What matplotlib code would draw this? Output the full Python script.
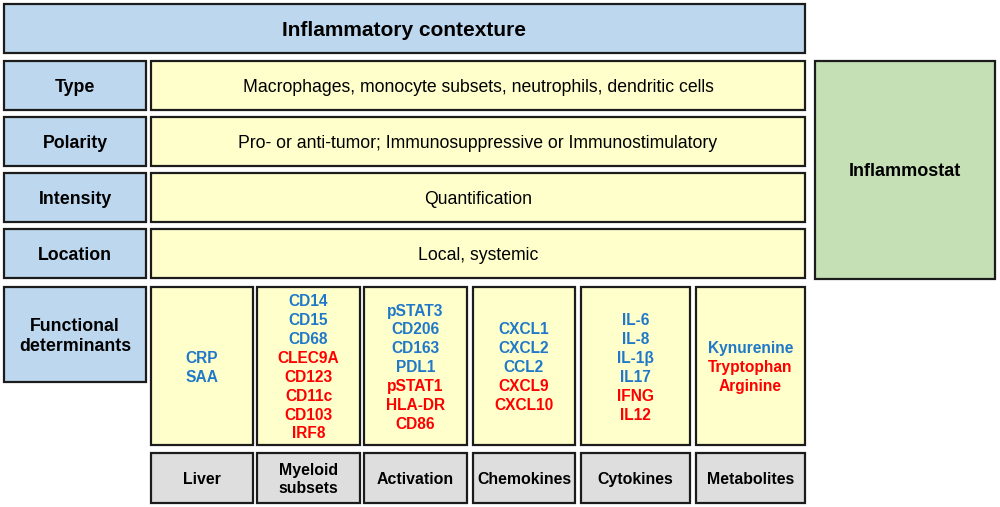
import matplotlib
matplotlib.use("Agg")
import matplotlib.pyplot as plt
from matplotlib.patches import Rectangle

plt.rcParams['font.family'] = ['Liberation Sans', 'DejaVu Sans']

# ---- data ----
title = "Inflammatory contexture"
row_labels = ["Type", "Polarity", "Intensity", "Location"]
row_texts = ["Macrophages, monocyte subsets, neutrophils, dendritic cells",
             "Pro- or anti-tumor; Immunosuppressive or Immunostimulatory",
             "Quantification",
             "Local, systemic"]
side_label = "Inflammostat"
func_label = "Functional\ndeterminants"
categories = ["Liver", "Myeloid\nsubsets", "Activation", "Chemokines", "Cytokines", "Metabolites"]
blue_markers = [["CRP", "SAA"],
                ["CD14", "CD15", "CD68"],
                ["pSTAT3", "CD206", "CD163", "PDL1"],
                ["CXCL1", "CXCL2", "CCL2"],
                ["IL-6", "IL-8", "IL-1β", "IL17"],
                ["Kynurenine"]]
red_markers = [[],
               ["CLEC9A", "CD123", "CD11c", "CD103", "IRF8"],
               ["pSTAT1", "HLA-DR", "CD86"],
               ["CXCL9", "CXCL10"],
               ["IFNG", "IL12"],
               ["Tryptophan", "Arginine"]]

# ---- layout / styles ----
col_edges = [(151, 253), (257, 360), (364, 467), (473, 575), (581, 690), (696, 805)]
BLUE_FILL = "#BDD7EE"
YELLOW_FILL = "#FFFFCC"
GREEN_FILL = "#C5E0B4"
GRAY_FILL = "#DEDEDE"
EDGE = "#1c1c1c"
BLUE_TXT = "#1F78C8"
RED_TXT = "#FF0000"
LW = 1.6
DY = 1.8  # small downward nudge for text centring

fig = plt.figure(figsize=(10, 5.07), dpi=100)
ax = fig.add_axes([0, 0, 1, 1])
ax.set_xlim(0, 1000)
ax.set_ylim(507, 0)
ax.axis("off")


def box(x0, y0, x1, y1, fc):
    ax.add_patch(Rectangle((x0, y0), x1 - x0, y1 - y0, facecolor=fc,
                           edgecolor=EDGE, linewidth=LW, joinstyle="miter"))


# title
box(4, 4, 805, 53, BLUE_FILL)
ax.text(404.5, 29 + DY, title, ha="center", va="center", fontsize=15, fontweight="bold")

# rows
row_top0, row_h, row_step = 61, 49, 56
for i, (lab, txt) in enumerate(zip(row_labels, row_texts)):
    y0 = row_top0 + i * row_step
    y1 = y0 + row_h
    box(4, y0, 146, y1, BLUE_FILL)
    box(151, y0, 805, y1, YELLOW_FILL)
    yc = (y0 + y1) / 2 + DY
    ax.text(75, yc, lab, ha="center", va="center", fontsize=12.8, fontweight="bold")
    ax.text(478, yc, txt, ha="center", va="center", fontsize=12.7)

# inflammostat
box(815, 61, 995, 279, GREEN_FILL)
ax.text(905, 170 + DY, side_label, ha="center", va="center", fontsize=13, fontweight="bold")

# functional determinants
box(4, 287, 146, 382, BLUE_FILL)
ax.text(75, 334.5 + DY, func_label, ha="center", va="center", fontsize=12.8,
        fontweight="bold", linespacing=1.2)

line_h = 18.9
for j, cat in enumerate(categories):
    x0, x1 = col_edges[j]
    xc = (x0 + x1) / 2
    box(x0, 287, x1, 445, YELLOW_FILL)
    box(x0, 453, x1, 503, GRAY_FILL)
    ax.text(xc, 478 + DY, cat, ha="center", va="center", fontsize=11.4,
            fontweight="bold", linespacing=1.25)
    items = [(m, BLUE_TXT) for m in blue_markers[j]] + [(m, RED_TXT) for m in red_markers[j]]
    k = len(items)
    yc = 366 + DY
    for t, (m, col) in enumerate(items):
        y = yc + (t - (k - 1) / 2) * line_h
        ax.text(xc, y, m, ha="center", va="center", fontsize=11.2,
                fontweight="bold", color=col)

fig.savefig("out.png", dpi=100, facecolor="white")
